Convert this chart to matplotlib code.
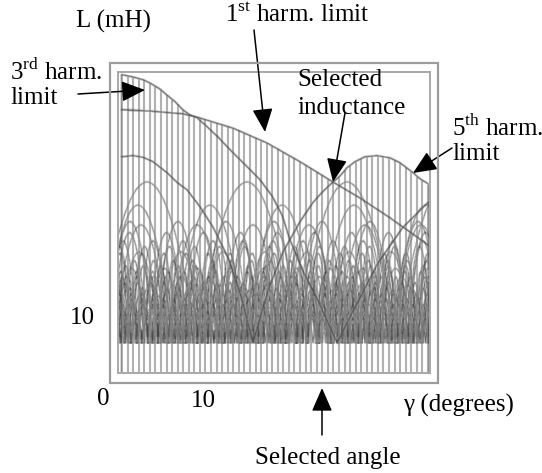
import numpy as np
import matplotlib
matplotlib.use("Agg")
import matplotlib.pyplot as plt
from matplotlib.path import Path
from matplotlib.patches import PathPatch, Rectangle

plt.rcParams['font.family'] = ['Liberation Serif', 'DejaVu Serif']
plt.rcParams['mathtext.fontset'] = 'custom'
plt.rcParams['mathtext.rm'] = 'Liberation Serif'

# angle grid (degrees) and the allowed inductance range at each angle (mH)
gamma = np.linspace(1.9, 32.5, 56)
L_top = [54.2, 54.0, 53.8, 53.5, 53.2, 52.7, 52.2, 51.5, 50.6, 49.7,
         48.8, 47.8, 47.1, 46.6, 46.4, 46.1, 45.7, 45.5, 45.1, 44.8,
         44.5, 44.1, 43.6, 43.2, 42.7, 42.2, 41.8, 41.3, 40.7, 40.1,
         39.5, 39.0, 38.4, 37.8, 37.2, 36.6, 36.0, 35.3, 34.8, 35.7,
         36.8, 37.7, 38.4, 38.9, 39.3, 39.4, 39.4, 39.3, 39.1, 38.7,
         38.1, 37.5, 36.6, 35.7, 35.0, 34.3]
L_base = 5.5

# 3rd harmonic limit
g3 = [1.9, 3.0, 4.0, 4.7, 5.7, 6.4, 7.2, 8.0, 8.7, 9.4, 10.2, 11.5, 13.0,
      14.4, 15.7, 16.9, 17.9, 18.7, 20.0, 21.5, 23.4, 25.5, 27.5, 30.0, 32.5]
L3 = [54.2, 53.8, 53.3, 52.7, 51.6, 50.5, 49.3, 47.8, 46.9, 46.4, 45.1,
      42.9, 40.0, 37.5, 35.1, 32.2, 28.7, 24.2, 18.5, 13.2, 5.5, 13.0,
      20.0, 26.5, 31.0]

# 1st harmonic limit
g1 = [1.9, 4.7, 8.0, 9.4, 13.0, 16.4, 19.7, 23.0, 25.7, 28.7, 32.5]
L1 = [47.8, 47.6, 47.1, 46.5, 44.5, 41.8, 38.4, 34.7, 31.8, 28.2, 23.3]

# 5th harmonic limit
g5 = [1.9, 3.0, 4.0, 5.0, 6.4, 7.5, 8.4, 9.7, 11.0, 12.5, 13.8, 15.0,
      16.5, 18.0, 19.7, 21.0, 22.0, 23.0, 23.7, 24.4, 25.2, 26.2, 27.4,
      28.7, 29.7, 31.0, 31.7, 32.5]
L5 = [39.3, 39.5, 39.2, 38.4, 36.4, 34.5, 33.3, 30.2, 26.5, 21.0, 14.0, 5.5,
      15.0, 22.0, 27.5, 31.0, 33.0, 34.7, 35.8, 37.3, 38.4, 39.3, 39.5,
      39.1, 38.2, 36.4, 35.3, 34.4]

# higher harmonic limits: lobe width (deg), lobe peak (mH), first zero (deg)
lobe_width = [10.0, 7.2, 5.6, 4.8, 4.2, 3.7, 3.3, 3.0, 2.75, 2.5, 2.35,
              2.2, 2.05, 1.95, 1.85, 1.75, 1.65, 1.58, 1.5, 1.44, 1.38, 1.32,
              1.27, 1.22, 1.18, 1.14, 1.1, 1.06, 1.03, 1.0]
lobe_peak = [34.7, 30.5, 26.9, 27.5, 22.0, 25.5, 19.0, 24.0, 17.5, 23.0,
             16.0, 21.8, 15.0, 20.5, 14.0, 19.5, 13.0, 18.5, 12.5, 17.5,
             12.0, 16.5, 11.5, 15.5, 11.0, 14.5, 10.5, 13.5, 10.0, 12.5]
lobe_start = [-0.6, -0.1, 1.0, 0.3, 1.5, 0.8, 1.2, 0.5, 1.0, 0.4, 1.1,
              0.6, 1.3, 0.2, 0.9, 1.4, 0.5, 1.0, 0.3, 1.2, 0.7, 1.5,
              0.1, 0.9, 0.4, 1.1, 0.6, 0.2, 0.8, 0.5]


def soften(im, dpi, pad=2):
    # light blur so the plotted lines look soft, like the printed figure
    a = np.pad(im, ((pad, pad), (pad, pad), (0, 0)))
    k = [0.2, 0.6, 0.2]
    for axis in (0, 1):
        a = sum(wk * np.roll(a, i - 1, axis=axis) for i, wk in enumerate(k))
    return a, -pad, -pad


W, H = 542, 473
fig = plt.figure(figsize=(W / 100, H / 100), dpi=100)
ax = fig.add_axes([118 / W, 1 - 373 / H, (430 - 118) / W, (373 - 72) / H])
ax.set_xlim(1.5, 32.7)
ax.set_ylim(0, 54.7)
ax.set_xticks([])
ax.set_yticks([])
for s in ax.spines.values():
    s.set_color('#a8a8a8')
    s.set_linewidth(1.4)

vl = ax.vlines(gamma, 0, L_top, color='#6e6e6e', lw=1.2)
vl.set_agg_filter(soften)

curve_col = '#454545'
for w, p, z0 in zip(lobe_width, lobe_peak, lobe_start):
    verts, codes = [], []
    z = z0
    while z < 33.5:
        verts += [(z, L_base), (z + w / 2, 2 * p - L_base), (z + w, L_base)]
        codes += [Path.MOVETO, Path.CURVE3, Path.CURVE3]
        z += w
    pp = ax.add_patch(PathPatch(Path(verts, codes), fill=False, ec=curve_col, lw=0.8))
    pp.set_agg_filter(soften)

for g, L in [(g3, L3), (g1, L1), (g5, L5)]:
    ln, = ax.plot(g, L, color='#4a4a4a', lw=1.1)
    ln.set_agg_filter(soften)

fig.add_artist(Rectangle((110 / W, 1 - 383 / H), 328 / W, 320 / H,
                         transform=fig.transFigure, fill=False,
                         ec='#9c9c9c', lw=1.6))

fs = 18


def label(x, y, s, ha='left'):
    fig.text(x / W, 1 - y / H, s, ha=ha, va='center', fontsize=fs)


label(113, 21, 'L (mH)', ha='center')
label(225, 15, r'1$^{\mathrm{st}}$ harm. limit')
label(10, 72, r'3$^{\mathrm{rd}}$ harm.')
label(10, 98, 'limit')
label(297, 80, 'Selected')
label(297, 108, 'inductance')
label(452, 128, r'5$^{\mathrm{th}}$ harm.')
label(452, 154, 'limit')
label(82, 318, '10', ha='center')
label(103, 399, '0', ha='center')
label(203, 401, '10', ha='center')
label(403, 405, 'γ (degrees)')
label(255, 458, 'Selected angle')


def arrow(x0, y0, x1, y1):
    ax.annotate('', xy=(x1, H - y1), xytext=(x0, H - y0),
                xycoords='figure pixels', textcoords='figure pixels',
                arrowprops=dict(arrowstyle='-|>,head_length=0.8,head_width=0.35',
                                mutation_scale=18, color='black', lw=1.1,
                                shrinkA=0, shrinkB=0))


arrow(78, 94, 145, 90)
arrow(254, 30, 265, 132)
arrow(345, 113, 333, 182)
arrow(452, 148, 413, 173)
arrow(322, 435, 322, 388)

fig.savefig('out.png', dpi=100)
